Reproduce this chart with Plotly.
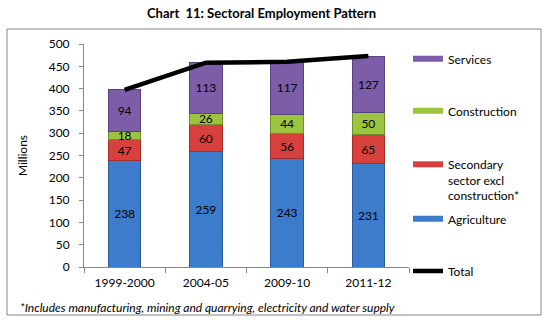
import plotly.graph_objects as go

categories = ["1999-2000", "2004-05", "2009-10", "2011-12"]
agriculture = [238, 259, 243, 231]
secondary = [47, 60, 56, 65]
construction = [18, 26, 44, 50]
services = [94, 113, 117, 127]
total = [397, 458, 460, 473]
y_ticks = [0, 50, 100, 150, 200, 250, 300, 350, 400, 450, 500]

W, H = 547, 327
L, R, T, B = 84, 409, 44, 267  # plot area in px

def px_x(px):
    return (px - L) / (R - L)

def px_y(py):
    return (B - py) / (B - T)

FONT = "Lato, 'Open Sans', sans-serif"

series = [
    ("Agriculture", agriculture, "#3D7BCB", "#2C5C9A"),
    ("Secondary sector excl construction*", secondary, "#D8403D", "#A52E2C"),
    ("Construction", construction, "#9CC43F", "#6F8F2A"),
    ("Services", services, "#7D5DA8", "#5A4180"),
]

fig = go.Figure()
for name, vals, col, edge in series:
    fig.add_trace(go.Bar(
        x=categories, y=vals, name=name, text=vals,
        textposition="inside", insidetextanchor="middle", textangle=0,
        constraintext="none",
        textfont=dict(family=FONT, size=12, color="#000000"),
        marker=dict(color=col, line=dict(color=edge, width=1)),
        width=0.4, showlegend=False, hoverinfo="skip",
    ))

fig.add_trace(go.Scatter(
    x=categories, y=total, name="Total", mode="lines",
    line=dict(color="#000000", width=4.5), legend="legend5",
))

# legend entries (wide swatches like the original)
legend_items = [
    ("Services", "#7D5DA8", "legend", 59, "middle"),
    ("Construction", "#9CC43F", "legend2", 111, "middle"),
    ("Secondary<br>sector excl<br>construction*", "#D8403D", "legend3", 150, "top"),
    ("Agriculture", "#3D7BCB", "legend4", 219, "middle"),
]
for label, col, lg, _, _ in legend_items:
    fig.add_trace(go.Scatter(
        x=[None], y=[None], name=label, mode="lines",
        line=dict(color=col, width=6), legend=lg,
    ))

LX = 408
legend_layout = {}
for label, col, lg, py, anchor in legend_items:
    legend_layout[lg] = dict(
        x=px_x(LX), y=px_y(py), xanchor="left", yanchor=anchor,
        font=dict(family=FONT, size=12, color="#000000"),
        bgcolor="rgba(0,0,0,0)", itemwidth=30, valign="top",
        tracegroupgap=0,
    )
legend_layout["legend5"] = dict(
    x=px_x(LX), y=px_y(271), xanchor="left", yanchor="middle",
    font=dict(family=FONT, size=12, color="#000000"),
    bgcolor="rgba(0,0,0,0)", itemwidth=30,
)

fig.update_layout(
    width=W, height=H,
    margin=dict(l=L, r=W - R, t=T, b=H - B),
    paper_bgcolor="#FFFFFF", plot_bgcolor="#FFFFFF",
    barmode="stack", bargap=0.6,
    uniformtext=dict(minsize=12, mode="show"),
    font=dict(family=FONT, size=12, color="#000000"),
    **legend_layout,
    xaxis=dict(
        type="category", tickson="boundaries", ticks="outside", ticklen=5,
        tickcolor="#868686", showline=True, linecolor="#868686", linewidth=1,
        showgrid=False, tickfont=dict(family=FONT, size=12, color="#000000"),
        ticklabelstandoff=5, fixedrange=True,
    ),
    yaxis=dict(
        range=[0, 500], tickvals=y_ticks, ticks="outside", ticklen=4,
        tickcolor="#868686", showline=True, linecolor="#868686", linewidth=1,
        showgrid=False, zeroline=False,
        tickfont=dict(family=FONT, size=12, color="#000000"),
        ticklabelstandoff=7,
        title=dict(text="Millions", font=dict(family=FONT, size=12, color="#000000"),
                   standoff=18),
        fixedrange=True,
    ),
    shapes=[dict(
        type="rect", xref="paper", yref="paper",
        x0=px_x(7), x1=px_x(541), y0=px_y(315), y1=px_y(29),
        line=dict(color="#868686", width=1), fillcolor="rgba(0,0,0,0)",
        layer="below",
    )],
    annotations=[
        dict(text="<b>Chart  11: Sectoral Employment Pattern</b>",
             xref="paper", yref="paper", x=px_x(261), y=px_y(13),
             xanchor="center", yanchor="middle", showarrow=False,
             font=dict(family=FONT, size=13, color="#000000")),
        dict(text="<i>*Includes manufacturing, mining and quarrying, electricity and water supply</i>",
             xref="paper", yref="paper", x=px_x(18), y=px_y(307),
             xanchor="left", yanchor="middle", showarrow=False,
             font=dict(family=FONT, size=12, color="#000000")),
    ],
)

fig.write_html("out.html")
